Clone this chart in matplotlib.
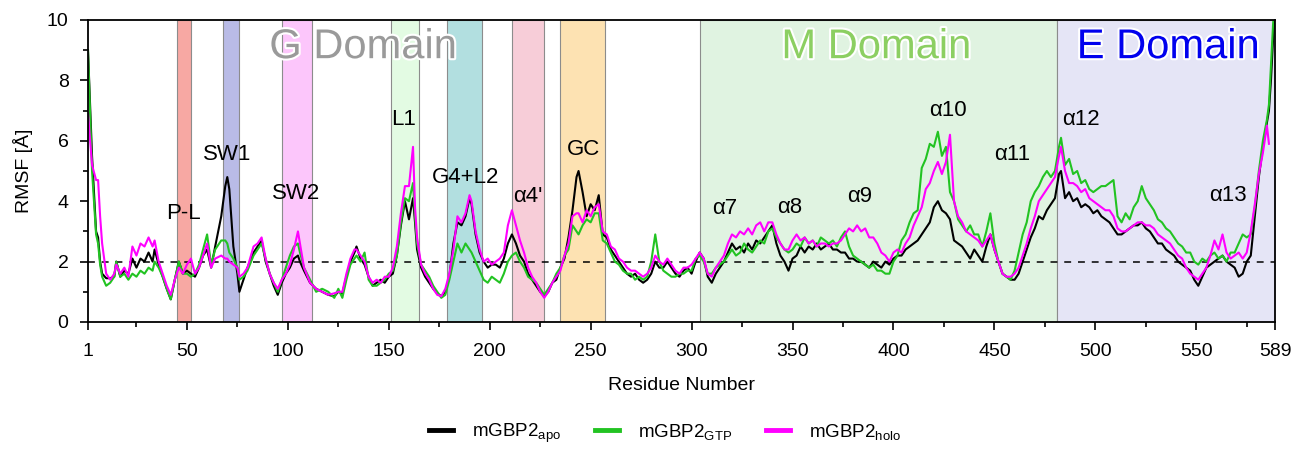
import numpy as np
import matplotlib
matplotlib.use("Agg")
import matplotlib.pyplot as plt
import matplotlib.patheffects as pe
from matplotlib.lines import Line2D

plt.rcParams['font.family'] = ['Liberation Sans', 'DejaVu Sans']
plt.rcParams['mathtext.fontset'] = 'custom'
plt.rcParams['mathtext.rm'] = 'Liberation Sans'
plt.rcParams['mathtext.it'] = 'Liberation Sans'

# ---------------- data ----------------
residues = [1, 3, 5, 6, 7, 8, 10, 12, 14, 15, 17, 19, 21, 23, 25, 27, 29, 31, 33, 34, 36, 38, 40, 42, 44,
            46, 48, 50, 52, 54, 56, 58, 60, 62, 64, 67, 69, 70, 71, 73, 75, 76, 78, 80, 83, 85, 87, 89,
            91, 93, 95, 97, 99, 101, 103, 105, 106, 108, 111, 114, 117, 120, 123, 125, 127, 129, 131,
            133, 134, 136, 138, 140, 142, 144, 146, 148, 150, 152, 154, 156, 158, 160, 162, 163, 164,
            166, 168, 170, 172, 174, 176, 178, 180, 182, 184, 186, 188, 190, 191, 193, 195, 197, 199,
            201, 203, 205, 207, 209, 211, 213, 215, 217, 219, 221, 223, 225, 227, 229, 231, 233, 235,
            237, 239, 241, 243, 244, 246, 248, 250, 252, 254, 256, 258, 260, 262, 264, 266, 268, 270,
            272, 274, 276, 278, 280, 282, 284, 286, 288, 290, 292, 294, 296, 298, 300, 302, 304, 306,
            308, 310, 312, 314, 316, 318, 320, 322, 324, 326, 328, 330, 332, 334, 336, 338, 340, 342,
            344, 346, 348, 350, 352, 354, 356, 358, 360, 362, 364, 366, 368, 370, 372, 374, 376, 378,
            380, 382, 384, 386, 388, 390, 392, 394, 396, 398, 400, 402, 404, 406, 408, 410, 412, 414,
            416, 418, 420, 422, 424, 426, 428, 430, 432, 434, 436, 438, 440, 442, 444, 446, 448, 450,
            452, 454, 456, 458, 460, 462, 464, 466, 468, 470, 472, 474, 476, 478, 480, 482, 483, 485,
            487, 489, 491, 493, 495, 497, 499, 501, 503, 505, 507, 509, 511, 513, 515, 517, 519, 521,
            523, 525, 527, 529, 531, 533, 535, 537, 539, 541, 543, 545, 547, 549, 551, 553, 555, 557,
            559, 561, 563, 565, 567, 569, 571, 573, 575, 577, 579, 581, 583, 585, 586, 587, 588, 589]

rmsf_apo = [9.0, 5.5, 3.0, 2.8, 2.0, 1.6, 1.45, 1.45, 1.5, 2.0, 1.5, 1.7, 1.6, 2.1, 1.8, 2.1, 2.0, 2.3, 2.0, 2.4,
            1.9, 1.5, 1.1, 0.75, 1.4, 2.0, 1.6, 1.7, 1.6, 1.5, 1.8, 2.2, 2.4, 1.8, 2.5, 3.5, 4.5, 4.8, 4.4,
            2.5, 1.6, 1.0, 1.4, 1.8, 2.3, 2.5, 2.7, 2.0, 1.6, 1.2, 0.9, 1.3, 1.6, 1.8, 2.1, 2.2, 2.0, 1.7,
            1.3, 1.1, 1.0, 0.9, 0.85, 1.0, 0.95, 1.5, 2.0, 2.3, 2.5, 2.1, 1.9, 1.5, 1.2, 1.3, 1.4, 1.3,
            1.5, 1.6, 2.2, 3.2, 4.0, 3.4, 4.1, 3.3, 2.4, 1.8, 1.5, 1.3, 1.1, 0.95, 0.85, 1.0, 1.5, 2.6,
            3.3, 3.2, 3.5, 4.1, 3.9, 2.9, 2.3, 2.0, 1.8, 1.9, 1.9, 1.8, 2.1, 2.6, 2.9, 2.6, 2.2, 2.0, 1.6,
            1.4, 1.2, 1.0, 0.85, 1.0, 1.3, 1.4, 1.8, 2.1, 2.8, 3.7, 4.8, 5.0, 4.3, 3.5, 3.9, 3.7, 4.2,
            2.9, 2.8, 2.4, 2.2, 2.0, 1.8, 1.6, 1.5, 1.6, 1.4, 1.3, 1.4, 1.6, 2.0, 1.8, 1.8, 2.0, 1.8,
            1.6, 1.5, 1.7, 1.8, 1.6, 2.0, 2.3, 2.1, 1.5, 1.3, 1.6, 1.8, 2.0, 2.3, 2.6, 2.4, 2.5, 2.3,
            2.6, 2.4, 2.7, 2.6, 2.8, 3.0, 3.2, 2.6, 2.2, 2.0, 1.7, 2.1, 2.2, 2.5, 2.3, 2.5, 2.4, 2.6,
            2.4, 2.5, 2.6, 2.4, 2.4, 2.3, 2.3, 2.1, 2.1, 2.0, 2.0, 1.9, 1.8, 2.0, 1.9, 1.8, 2.0, 1.9,
            2.1, 2.2, 2.2, 2.4, 2.5, 2.6, 2.7, 2.9, 3.1, 3.3, 3.8, 4.0, 3.7, 3.6, 3.4, 2.7, 2.6, 2.5,
            2.3, 2.1, 2.4, 2.2, 2.0, 2.5, 2.9, 2.4, 2.0, 1.6, 1.5, 1.4, 1.4, 1.6, 2.0, 2.4, 2.8, 3.1,
            3.5, 3.4, 3.7, 3.9, 4.1, 4.9, 5.0, 4.1, 4.3, 4.0, 4.1, 3.8, 3.9, 3.8, 3.6, 3.7, 3.5, 3.4,
            3.3, 3.1, 2.9, 2.9, 3.0, 3.1, 3.2, 3.2, 3.3, 3.1, 3.0, 2.8, 2.6, 2.6, 2.4, 2.3, 2.2, 2.0,
            1.9, 1.8, 1.7, 1.4, 1.2, 1.5, 1.8, 1.9, 2.0, 2.1, 2.2, 2.0, 1.9, 1.8, 1.5, 1.6, 2.0, 2.2,
            3.5, 4.8, 5.8, 6.6, 7.0, 8.0, 9.3, 10.5]

rmsf_gtp = [9.0, 5.0, 2.9, 2.6, 1.9, 1.5, 1.2, 1.3, 1.5, 2.0, 1.5, 1.6, 1.4, 1.6, 1.5, 1.7, 1.6, 1.8, 1.7, 2.0,
            1.8, 1.5, 1.1, 0.75, 1.4, 2.0, 1.6, 1.6, 1.5, 1.6, 1.9, 2.4, 2.9, 1.9, 2.4, 2.7, 2.7, 2.6, 2.3,
            2.1, 1.8, 1.4, 1.5, 1.7, 2.2, 2.4, 2.6, 2.1, 1.6, 1.3, 1.0, 1.4, 1.8, 2.2, 2.5, 2.6, 2.3, 1.8,
            1.4, 1.0, 1.1, 1.0, 0.8, 1.1, 0.8, 1.4, 1.9, 2.1, 2.2, 2.0, 2.3, 1.4, 1.2, 1.2, 1.3, 1.4,
            1.6, 1.7, 2.2, 3.3, 4.1, 4.0, 4.6, 3.5, 2.6, 1.9, 1.7, 1.5, 1.2, 1.0, 0.8, 0.9, 1.4, 2.0,
            2.6, 2.3, 2.6, 2.4, 2.3, 2.0, 1.7, 1.4, 1.3, 1.5, 1.4, 1.3, 1.6, 2.0, 2.2, 2.3, 2.0, 1.8, 1.5,
            1.4, 1.3, 1.1, 0.9, 1.1, 1.3, 1.6, 1.8, 2.2, 2.4, 3.2, 3.0, 2.9, 3.2, 3.4, 3.3, 3.6, 3.6,
            2.7, 2.6, 2.3, 2.0, 1.9, 1.7, 1.6, 1.6, 1.4, 1.5, 1.4, 1.5, 2.0, 2.9, 2.0, 1.7, 1.6, 1.5,
            1.5, 1.6, 1.6, 1.7, 1.7, 2.1, 2.2, 2.0, 1.6, 1.6, 1.8, 1.9, 2.0, 2.2, 2.4, 2.2, 2.3, 2.6,
            2.4, 2.3, 2.5, 2.7, 2.6, 3.0, 3.1, 2.8, 2.6, 2.4, 2.3, 2.4, 2.6, 2.5, 2.8, 2.6, 2.7, 2.5,
            2.8, 2.7, 2.6, 2.7, 2.5, 2.8, 3.0, 2.5, 2.2, 2.1, 2.0, 1.9, 1.8, 1.9, 1.7, 1.7, 1.6, 1.6,
            2.0, 2.2, 2.7, 2.9, 3.3, 3.6, 3.7, 5.1, 5.4, 5.9, 5.8, 6.3, 5.5, 5.8, 4.3, 4.0, 3.4, 3.2,
            3.0, 3.2, 2.9, 2.9, 2.5, 3.0, 3.6, 2.6, 2.0, 1.6, 1.5, 1.4, 1.7, 2.3, 2.9, 3.3, 4.0, 4.3,
            4.5, 4.8, 5.0, 4.8, 5.0, 5.8, 6.1, 5.2, 5.4, 4.9, 5.0, 4.6, 4.7, 4.4, 4.3, 4.4, 4.5, 4.5,
            4.6, 4.7, 3.5, 3.3, 3.6, 3.4, 3.8, 4.0, 4.5, 4.1, 3.9, 3.7, 3.4, 3.3, 3.1, 3.0, 2.8, 2.6,
            2.5, 2.3, 2.3, 2.0, 1.9, 2.1, 2.0, 2.2, 2.3, 2.1, 2.2, 2.0, 2.3, 2.3, 2.6, 2.9, 2.8, 2.9,
            3.8, 5.0, 6.0, 6.7, 7.2, 8.5, 9.8, 10.8]

rmsf_holo = [6.9, 5.2, 4.7, 4.7, 3.5, 2.6, 1.6, 1.4, 1.6, 1.9, 1.6, 1.8, 1.5, 2.5, 2.2, 2.6, 2.5, 2.8, 2.5, 2.7,
             2.0, 1.6, 1.2, 0.9, 1.4, 1.8, 1.6, 1.9, 2.1, 1.6, 1.8, 2.2, 2.6, 1.8, 2.1, 2.2, 2.1, 2.1, 2.0,
             1.9, 1.8, 1.5, 1.6, 1.8, 2.5, 2.6, 2.8, 2.1, 1.6, 1.3, 1.1, 1.4, 1.6, 1.9, 2.4, 3.0, 2.6, 1.8,
             1.3, 1.1, 1.0, 0.9, 0.95, 1.0, 1.0, 1.6, 2.1, 2.4, 2.4, 2.2, 2.0, 1.5, 1.3, 1.4, 1.3, 1.5,
             1.5, 1.8, 2.5, 3.6, 4.5, 4.5, 5.8, 3.8, 2.8, 1.9, 1.6, 1.4, 1.1, 0.9, 0.85, 1.1, 1.6, 2.4,
             3.5, 3.3, 3.6, 4.2, 4.0, 3.0, 2.4, 2.0, 2.1, 1.9, 2.0, 2.1, 2.3, 3.2, 3.7, 3.2, 2.7, 2.3, 1.8,
             1.5, 1.3, 1.0, 0.8, 1.0, 1.3, 1.5, 1.7, 2.2, 2.6, 3.5, 3.6, 3.6, 3.3, 3.7, 3.5, 3.8, 3.9,
             3.0, 2.9, 2.5, 2.4, 2.1, 2.0, 1.8, 1.7, 1.7, 1.6, 1.5, 1.6, 1.8, 2.2, 2.0, 1.9, 2.1, 1.9,
             1.7, 1.6, 1.8, 1.8, 1.9, 2.1, 2.3, 2.1, 1.6, 1.5, 1.8, 2.0, 2.2, 2.6, 2.9, 2.8, 3.0, 2.9,
             3.1, 2.9, 3.2, 3.3, 3.0, 3.3, 3.3, 2.9, 2.6, 2.4, 2.4, 2.7, 2.9, 2.7, 2.8, 2.6, 2.7, 2.5,
             2.6, 2.6, 2.5, 2.6, 2.6, 2.7, 2.9, 3.1, 3.0, 3.2, 3.0, 3.1, 2.8, 2.8, 2.6, 2.3, 2.2, 2.0,
             2.3, 2.4, 2.3, 2.6, 2.8, 3.2, 3.5, 3.8, 4.4, 4.6, 5.0, 5.3, 4.9, 5.3, 6.2, 4.0, 3.5, 3.3,
             3.0, 2.9, 2.8, 2.7, 2.5, 2.7, 2.9, 2.4, 2.0, 1.6, 1.5, 1.5, 1.6, 1.8, 2.2, 2.6, 3.1, 3.5,
             4.0, 4.2, 4.4, 4.6, 4.8, 5.5, 5.8, 5.0, 4.6, 4.6, 4.5, 4.3, 4.4, 4.1, 4.0, 3.9, 3.8, 3.7,
             3.7, 3.5, 3.1, 3.0, 3.0, 3.1, 3.2, 3.3, 3.3, 3.2, 3.2, 3.1, 2.9, 2.8, 2.7, 2.6, 2.4, 2.2,
             2.1, 1.8, 1.6, 1.5, 1.4, 1.6, 1.8, 2.2, 2.7, 2.4, 2.9, 2.3, 2.1, 2.2, 2.3, 2.1, 2.3, 3.0,
             3.9, 4.9, 5.6, 6.5, 5.9, np.nan, np.nan, np.nan]

series_labels = [r'mGBP2$_{\mathrm{apo}}$', r'mGBP2$_{\mathrm{GTP}}$', r'mGBP2$_{\mathrm{holo}}$']
series_colors = ['#000000', '#22c322', '#ff00ff']

# highlighted regions (start, end, colour)
region_starts = [45, 68, 97, 151, 179, 211, 235, 304, 481]
region_ends = [52, 76, 112, 165, 196, 227, 257, 481, 589]
region_colors = ['#f7a8a3', '#b9bbe6', '#fcc6fb', '#e3fbe3', '#b2dfe0', '#f7cdd8', '#fde2b2',
                 '#e0f3e1', '#e5e5f6']

# motif labels
motif_names = ['P-L', 'SW1', 'SW2', 'L1', 'G4+L2', "α4'", 'GC', 'α7', 'α8', 'α9', 'α10', 'α11',
               'α12', 'α13']
motif_x = [48.2, 70.1, 103.9, 157.4, 187.8, 219, 246.7, 316.5, 348.8, 383.4, 427, 458.7, 492.9, 565.7]
motif_y = [3.58, 5.53, 4.27, 6.69, 4.80, 4.17, 5.70, 3.77, 3.80, 4.17, 7.0, 5.56, 6.69, 4.2]

domain_names = ['G Domain', 'M Domain', 'E Domain']
domain_x = [137.2, 391.4, 536]
domain_colors = ['#9a9a9a', '#8ccf62', '#0000ee']

xticks = [1, 50, 100, 150, 200, 250, 300, 350, 400, 450, 500, 550, 589]

# ---------------- figure ----------------
W, H = 1293, 449
fig = plt.figure(figsize=(W / 100, H / 100), dpi=100)
ax = fig.add_axes([88 / W, 1 - 322 / H, (1275 - 88) / W, (322 - 20) / H])

for s, e, c in zip(region_starts, region_ends, region_colors):
    ax.axvspan(s, e, facecolor=c, edgecolor='#8c8c8c', linewidth=0.8, zorder=0)

ax.axhline(2, color='black', linestyle=(0, (4.5, 4.5)), linewidth=1.1, zorder=1)

x = np.array(residues, dtype=float)
for vals, lab, col in zip([rmsf_apo, rmsf_gtp, rmsf_holo], series_labels, series_colors):
    ax.plot(x, np.array(vals, dtype=float), color=col, linewidth=1.5, label=lab, zorder=2)

for name, mx, my in zip(motif_names, motif_x, motif_y):
    ax.text(mx, my, name, ha='center', va='center', fontsize=16, color='black', zorder=4)

for name, dx, dc in zip(domain_names, domain_x, domain_colors):
    ax.text(dx, 9.1, name, ha='center', va='center', fontsize=30, color=dc, zorder=4,
            path_effects=[pe.withStroke(linewidth=3, foreground='white')])

ax.set_xlim(1, 589)
ax.set_ylim(0, 10)
ax.set_xticks(xticks)
ax.set_xticks([25, 75, 125, 175, 225, 275, 325, 375, 425, 475, 525, 575], minor=True)
ax.set_yticks([0, 2, 4, 6, 8, 10])
ax.set_yticks([1, 3, 5, 7, 9], minor=True)
ax.tick_params(axis='both', which='major', direction='out', length=6, width=1.2, labelsize=14)
ax.tick_params(axis='both', which='minor', direction='out', length=3.5, width=1.2)
ax.tick_params(axis='x', which='major', pad=9)
ax.tick_params(axis='y', which='major', pad=8)
for sp in ax.spines.values():
    sp.set_linewidth(1.3)

ax.set_xlabel('Residue Number', fontsize=14, labelpad=12)
ax.set_ylabel('RMSF [Å]', fontsize=14, labelpad=10)

handles = [Line2D([0], [0], color=c, linewidth=3.5) for c in series_colors]
fig.legend(handles, series_labels, loc='center', bbox_to_anchor=((665) / W, 1 - 433 / H), ncol=3,
           frameon=False, fontsize=13.5, handlelength=1.3, handletextpad=1.0, columnspacing=1.8)

fig.savefig('out.png', dpi=100)
